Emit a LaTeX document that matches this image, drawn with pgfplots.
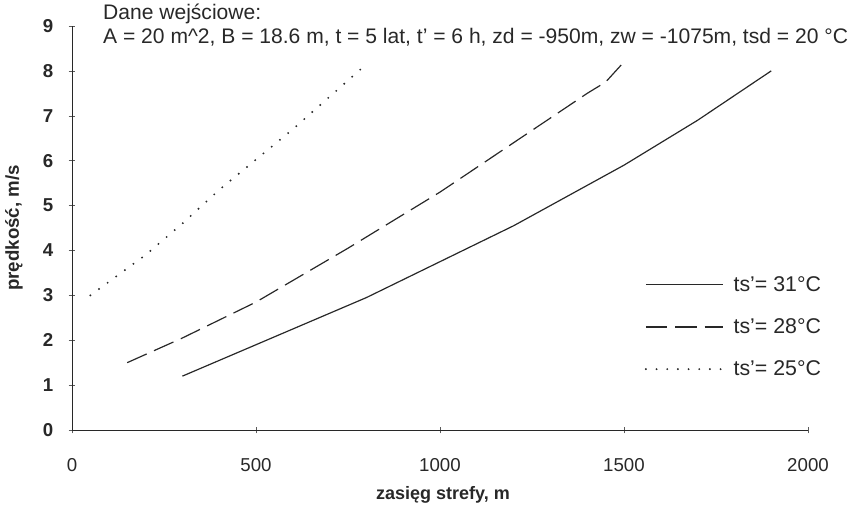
\documentclass[border=0pt]{standalone}
\usepackage{pgfplots}
\pgfplotsset{compat=1.18}
\usepackage{fontspec}
\setmainfont{Liberation Sans}

\definecolor{ink}{RGB}{40,40,40}
\definecolor{tickgray}{RGB}{90,90,90}

\begin{document}
\begin{tikzpicture}
\path[use as bounding box] (-54pt,-57.75pt) rectangle (585.75pt,322.5pt);
\begin{axis}[
    at={(0,0)}, anchor=south west,
    scale only axis,
    width=552pt, height=303pt,
    xmin=0, xmax=2000, ymin=0, ymax=9,
    axis lines=left,
    axis line style={ink, -},
    xtick={0,500,1000,1500,2000},
    ytick={0,1,2,3,4,5,6,7,8,9},
    tick align=center,
    major tick length=5pt,
    tick style={tickgray, thin},
    /pgf/number format/assume math mode=true,
    /pgf/number format/1000 sep={},
    xticklabel style={font=\fontsize{14}{16}\selectfont, color=ink, yshift=-15pt},
    yticklabel style={font=\bfseries\fontsize{14}{16}\selectfont, color=ink, xshift=-8pt},
    xlabel={zasięg strefy, m},
    ylabel={prędkość, m/s},
    xlabel style={font=\bfseries\fontsize{13.5}{15}\selectfont, color=ink,
        at={(axis description cs:0.504,-0.161)}, anchor=center},
    ylabel style={font=\bfseries\fontsize{14}{16}\selectfont, color=ink,
        at={(axis description cs:-0.0788,0.5)}, anchor=center},
    clip=false,
    legend style={draw=none, fill=none, at={(axis cs:1545,3.55)}, anchor=north west,
        font=\fontsize{16}{18}\selectfont, text=ink, row sep=15pt},
    legend cell align=left,
    legend image code/.code={\draw[#1] (0pt,0pt) -- (58pt,0pt); \path (63pt,0pt);},
]

% ts' = 31 C
\addplot[ink, line width=0.9pt] coordinates {
    (300,1.2) (400,1.55) (500,1.9) (600,2.25) (800,2.95) (1000,3.75)
    (1200,4.55) (1500,5.9) (1700,6.9) (1900,8.0)
};
\addlegendentry{ts'= 31°C}

% ts' = 28 C
\addplot[ink, line width=0.9pt, dash pattern=on 16pt off 6pt] coordinates {
    (150,1.5) (300,2.05) (500,2.85) (750,4.05) (1000,5.3) (1200,6.4)
    (1400,7.5) (1450,7.75) (1500,8.2)
};
\addlegendentry{ts'= 28°C}

% ts' = 25 C
\addplot[ink, line width=1.6pt, line cap=round, dash pattern=on 0pt off 8pt] coordinates {
    (50,3.0) (200,3.9) (300,4.6) (400,5.35) (600,6.7) (800,8.15)
};
\addlegendentry{ts'= 25°C}

\node[anchor=base west, font=\fontsize{15.8}{17}\selectfont, text=ink, inner sep=0pt]
    at (axis cs:84,9.15) {Dane wejściowe:};
\node[anchor=base west, font=\fontsize{15.8}{17}\selectfont, text=ink, inner sep=0pt]
    at (axis cs:84,8.62) {A = 20 m\textasciicircum 2, B = 18.6 m, t = 5 lat, t' = 6 h, zd = -950m, zw = -1075m, tsd = 20 °C};
\end{axis}
\end{tikzpicture}
\end{document}
